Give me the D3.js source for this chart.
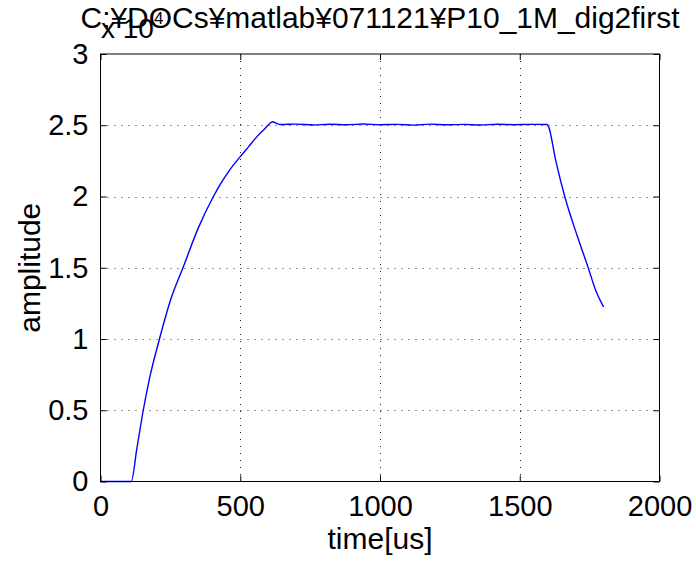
<!DOCTYPE html>
<html><head><meta charset="utf-8">
<script src="https://cdn.jsdelivr.net/npm/d3@7"></script>
<style>
html,body{margin:0;padding:0;background:#fff;}
text{font-family:"Liberation Sans",Arial,sans-serif;fill:#000;}
</style></head>
<body><svg id="c" width="696" height="571"></svg>
<script>
const titleText = "C:¥DOCs¥matlab¥071121¥P10_1M_dig2first";
const xLabel = "time[us]";
const yLabel = "amplitude";
const xTicks = [0, 500, 1000, 1500, 2000];
const yTicks = [0, 0.5, 1, 1.5, 2, 2.5, 3];
const yTickLabels = ["0", "0.5", "1", "1.5", "2", "2.5", "3"];
const exponentBase = "x 10";
const exponentPow = "4";
// time in us, amplitude in units of 1e4
const timeUs = [0, 60, 110, 130, 153, 175, 211, 250, 295, 350, 404, 430, 460, 500, 530, 560, 585, 605, 615, 628, 645,
  700, 760, 820, 880, 940, 1000, 1060, 1120, 1180, 1240, 1300, 1360, 1420, 1480, 1540, 1598,
  1603, 1629, 1661, 1707, 1745, 1772, 1800];
const amp = [0, 0, 0, 0.23, 0.5, 0.72, 1.0, 1.27, 1.5, 1.78, 2.0, 2.09, 2.18, 2.28, 2.35, 2.42, 2.47, 2.51, 2.525, 2.515, 2.505,
  2.508, 2.502, 2.507, 2.503, 2.509, 2.504, 2.506, 2.501, 2.508, 2.503, 2.506, 2.502, 2.507, 2.504, 2.506, 2.505,
  2.49, 2.25, 2.0, 1.716, 1.5, 1.34, 1.225];

const svg = d3.select("#c");
const L = 100.5, R = 659.5, T = 54, B = 481.5;
const x = d3.scaleLinear().domain([0, 2000]).range([L, R]);
const y = d3.scaleLinear().domain([0, 3]).range([B, T]);

// grid
const g = svg.append("g");
g.selectAll(".vg").data(xTicks.slice(1, -1)).enter().append("line")
  .attr("x1", d => Math.round(x(d)) + 0.5).attr("x2", d => Math.round(x(d)) + 0.5)
  .attr("y1", T).attr("y2", B)
  .attr("stroke", "#222").attr("stroke-width", 1).attr("stroke-dasharray", "1,6");
g.selectAll(".hg").data(yTicks.slice(1, -1)).enter().append("line")
  .attr("y1", d => Math.round(y(d)) + 0.5).attr("y2", d => Math.round(y(d)) + 0.5)
  .attr("x1", L).attr("x2", R)
  .attr("stroke", "#222").attr("stroke-width", 1).attr("stroke-dasharray", "1,6");

// data line
svg.append("path")
  .datum(timeUs.map((t, i) => [t, amp[i]]))
  .attr("fill", "none").attr("stroke", "#0000ff").attr("stroke-width", 1.4)
  .attr("d", d3.line().curve(d3.curveMonotoneX).x(d => x(d[0])).y(d => y(d[1])));

// axes with inward ticks
const xAxB = d3.axisBottom(x).tickValues(xTicks).tickSize(-6).tickFormat(d => d).tickPadding(14);
const xAxT = d3.axisTop(x).tickValues(xTicks).tickSize(-6).tickFormat("");
const yAxL = d3.axisLeft(y).tickValues(yTicks).tickSize(-6).tickFormat((d, i) => yTickLabels[i]).tickPadding(12);
const yAxR = d3.axisRight(y).tickValues(yTicks).tickSize(-6).tickFormat("");
function style(sel) {
  sel.select(".domain").attr("stroke", "#000");
  sel.selectAll(".tick line").attr("stroke", "#000");
  sel.selectAll("text").style("font-size", "29px").attr("fill", "#000");
}
svg.append("g").attr("transform", `translate(0,${B})`).call(xAxB).call(style);
svg.append("g").attr("transform", `translate(0,${T})`).call(xAxT).call(style);
svg.append("g").attr("transform", `translate(${L},0)`).call(yAxL).call(style);
svg.append("g").attr("transform", `translate(${R},0)`).call(yAxR).call(style);
svg.selectAll(".domain").attr("d", null);
svg.append("rect").attr("x", L).attr("y", T).attr("width", R - L).attr("height", B - T)
  .attr("fill", "none").attr("stroke", "#000").attr("stroke-width", 1);

// labels
svg.append("text").attr("x", (L + R) / 2).attr("y", 549).attr("text-anchor", "middle")
  .style("font-size", "30px").text(xLabel);
svg.append("text").attr("transform", `translate(40,${(T + B) / 2}) rotate(-90)`).attr("text-anchor", "middle")
  .style("font-size", "30px").text(yLabel);
svg.append("text").attr("x", (L + R) / 2).attr("y", 28).attr("text-anchor", "middle")
  .style("font-size", "29px").attr("textLength", 599).attr("lengthAdjust", "spacingAndGlyphs").text(titleText);
const ex = svg.append("text").attr("x", 101).attr("y", 38).style("font-size", "28px");
ex.append("tspan").text(exponentBase);
ex.append("tspan").attr("dy", -14).style("font-size", "17px").text(exponentPow);
</script></body></html>
